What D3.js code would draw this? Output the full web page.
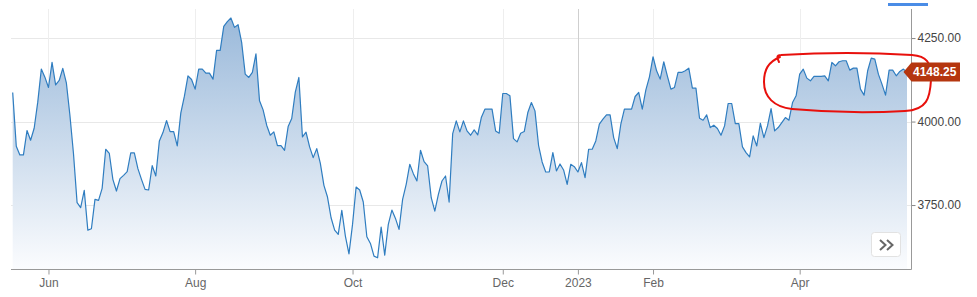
<!DOCTYPE html>
<html>
<head>
<meta charset="utf-8">
<script src="https://cdn.jsdelivr.net/npm/d3@7"></script>
<style>
html, body { margin: 0; padding: 0; background: #fff; }
svg { display: block; font-family: "Liberation Sans", Arial, sans-serif; }
</style>
</head>
<body>
<svg id="chart" width="977" height="297"></svg>
<script>
// Daily closing prices (trading days, mid-May 2022 to mid-May 2023)
const prices = [
  4087, 3926, 3900, 3900, 3973, 3944, 3980, 4058, 4157, 4133,
  4102, 4177, 4110, 4123, 4159, 4116, 4018, 3903, 3757, 3742,
  3794, 3675, 3679, 3767, 3764, 3800, 3917, 3905, 3827, 3792,
  3829, 3839, 3850, 3906, 3906, 3859, 3827, 3797, 3795, 3868,
  3837, 3942, 3967, 4003, 3970, 3970, 3927, 4026, 4076, 4137,
  4126, 4097, 4157, 4157, 4145, 4145, 4127, 4213, 4213, 4285,
  4299, 4310, 4282, 4290, 4237, 4142, 4132, 4147, 4203, 4062,
  4035, 3989, 3959, 3969, 3928, 3928, 3914, 3985, 4009, 4088,
  4132, 3954, 3968, 3924,
  3892, 3919, 3875, 3809, 3774, 3712, 3675, 3662, 3734, 3657,
  3604, 3692, 3804, 3795, 3759, 3655, 3635, 3597, 3592, 3684,
  3600, 3692, 3735, 3710, 3677, 3767, 3812, 3872, 3844, 3822,
  3914, 3880, 3867, 3772, 3732, 3782, 3822, 3837, 3759, 3964,
  4002, 3969, 4002, 3972, 3959, 3975, 3960, 4012, 4037, 4037,
  4037, 3972, 3965, 4084, 4084, 4077, 3949, 3939, 3965, 3970,
  4027, 4057, 4032, 3929, 3879, 3849, 3849, 3907, 3852, 3873,
  3855, 3812, 3872, 3865, 3849, 3877, 3832, 3917, 3917, 3942,
  3992, 4007, 4020, 4020,
  3952, 3919, 3992, 4037, 4037, 4037, 4075, 4087, 4037, 4095,
  4134, 4194, 4152, 4127, 4179, 4137, 4097, 4102, 4147, 4147,
  4152, 4160, 4100, 4100, 4010, 4004, 4020, 3982, 3989, 3979,
  3959, 3987, 4054, 4054, 3994, 3994, 3924, 3907, 3894, 3957,
  3927, 3995, 3952, 3987, 4039, 3972, 3982, 3997, 4012, 4004,
  4057, 4077, 4142, 4157, 4130, 4122, 4135, 4135, 4135, 4137,
  4122, 4177, 4167, 4179, 4182, 4182, 4154, 4160, 4160, 4097,
  4079, 4152, 4190, 4187, 4142, 4112, 4079, 4154, 4154, 4137,
  4150, 4157, 4148
];
// Index of the first trading day of each labelled month
const monthTickIndex = [10, 51, 95, 137, 158, 179, 220];
const monthTickLabels = ["Jun", "Aug", "Oct", "Dec", "2023", "Feb", "Apr"];
const yearTickLabel = "2023";
const priceTicks = [3750, 4000, 4250];
const lastPrice = 4148.25;
const lastPriceLabel = "4148.25";

const svg = d3.select("#chart");
const plot = { left: 11, right: 911.5, top: 9, bottom: 269.5 };

const x = d3.scaleLinear().domain([0, prices.length - 1]).range([12.7, 907]);
const y = d3.scaleLinear().domain([3557, 4337]).range([plot.bottom, plot.top]);

// gradient
const defs = svg.append("defs");
const grad = defs.append("linearGradient")
  .attr("id", "areaGrad").attr("gradientUnits", "userSpaceOnUse")
  .attr("x1", 0).attr("x2", 0).attr("y1", plot.top).attr("y2", plot.bottom);
grad.append("stop").attr("offset", 0).attr("stop-color", "#97b7d9");
grad.append("stop").attr("offset", 1).attr("stop-color", "#fbfcfe");

// horizontal grid
svg.append("g").selectAll("line").data(priceTicks).join("line")
  .attr("x1", plot.left).attr("x2", plot.right)
  .attr("y1", d => Math.round(y(d)) + 0.5).attr("y2", d => Math.round(y(d)) + 0.5)
  .attr("stroke", "#e8e8e8").attr("stroke-width", 1);

// vertical grid
svg.append("g").selectAll("line").data(monthTickIndex).join("line")
  .attr("x1", d => Math.round(x(d)) + 0.5).attr("x2", d => Math.round(x(d)) + 0.5)
  .attr("y1", plot.top).attr("y2", plot.bottom)
  .attr("stroke", (d, i) => monthTickLabels[i] === yearTickLabel ? "#cfcfcf" : "#eeeeee")
  .attr("stroke-width", 1);

// area + line
const area = d3.area().x((d, i) => x(i)).y0(plot.bottom).y1(d => y(d));
const line = d3.line().x((d, i) => x(i)).y(d => y(d));
svg.append("path").datum(prices).attr("d", area).attr("fill", "url(#areaGrad)");
svg.append("path").datum(prices).attr("d", line)
  .attr("fill", "none").attr("stroke", "#2f7dc0").attr("stroke-width", 1.2)
  .attr("stroke-linejoin", "round");

// x axis
const xAxis = d3.axisBottom(x).tickValues(monthTickIndex)
  .tickFormat((d, i) => monthTickLabels[i]).tickSize(5).tickSizeOuter(0).tickPadding(4);
const gx = svg.append("g").attr("transform", `translate(0,${plot.bottom})`).call(xAxis);
gx.select(".domain").remove();
gx.selectAll(".tick line").attr("stroke", "#999");
gx.selectAll(".tick text").attr("fill", "#666").attr("font-size", 12)
  .attr("font-family", "'Liberation Sans', Arial, sans-serif");
svg.append("line").attr("x1", plot.left).attr("x2", plot.right)
  .attr("y1", plot.bottom).attr("y2", plot.bottom).attr("stroke", "#999");

// y axis (right)
const yAxis = d3.axisRight(y).tickValues(priceTicks).tickFormat(d3.format(".2f"))
  .tickSize(4).tickSizeOuter(0).tickPadding(2);
const gy = svg.append("g").attr("transform", `translate(${plot.right},0)`).call(yAxis);
gy.select(".domain").remove();
gy.selectAll(".tick line").attr("stroke", "#888");
gy.selectAll(".tick text").attr("fill", "#444").attr("font-size", 12)
  .attr("font-family", "'Liberation Sans', Arial, sans-serif");
svg.append("line").attr("x1", plot.right).attr("x2", plot.right)
  .attr("y1", plot.top).attr("y2", plot.bottom).attr("stroke", "#999");

// top blue bar
svg.append("rect").attr("x", 888).attr("y", 3).attr("width", 40).attr("height", 3)
  .attr("fill", "#4a8ce6");

// hand-drawn red annotation
svg.append("path")
  .attr("d", "M779,62 C777,58 776,55 781,55 C830,52 880,53 912,55 C926,56 932,62 931,80 C930,98 927,110 905,111 C870,113 825,112 792,109 C774,107 764,97 764,82 C764,70 768,62 780,57")
  .attr("fill", "none").attr("stroke", "#e8100c").attr("stroke-width", 2)
  .attr("stroke-linecap", "round");

// last price tag
const ty = y(lastPrice);
svg.append("path")
  .attr("d", `M903.5,${ty} L911.5,${ty - 9.5} L960,${ty - 9.5} L960,${ty + 9.5} L911.5,${ty + 9.5} Z`)
  .attr("fill", "#b5360f");
svg.append("text").attr("x", 913).attr("y", ty).attr("dy", "0.35em")
  .attr("fill", "#fff").attr("font-size", 12).attr("font-weight", "bold")
  .text(lastPriceLabel);

// navigation button
const btn = svg.append("g");
btn.append("rect").attr("x", 871.5).attr("y", 232.5).attr("width", 29).attr("height", 24)
  .attr("rx", 3).attr("fill", "#fff").attr("stroke", "#e2e2e2");
btn.append("path")
  .attr("d", "M880,240 L885.5,245 L880,250 M887,240 L892.5,245 L887,250")
  .attr("fill", "none").attr("stroke", "#666").attr("stroke-width", 2);
</script>
</body>
</html>
